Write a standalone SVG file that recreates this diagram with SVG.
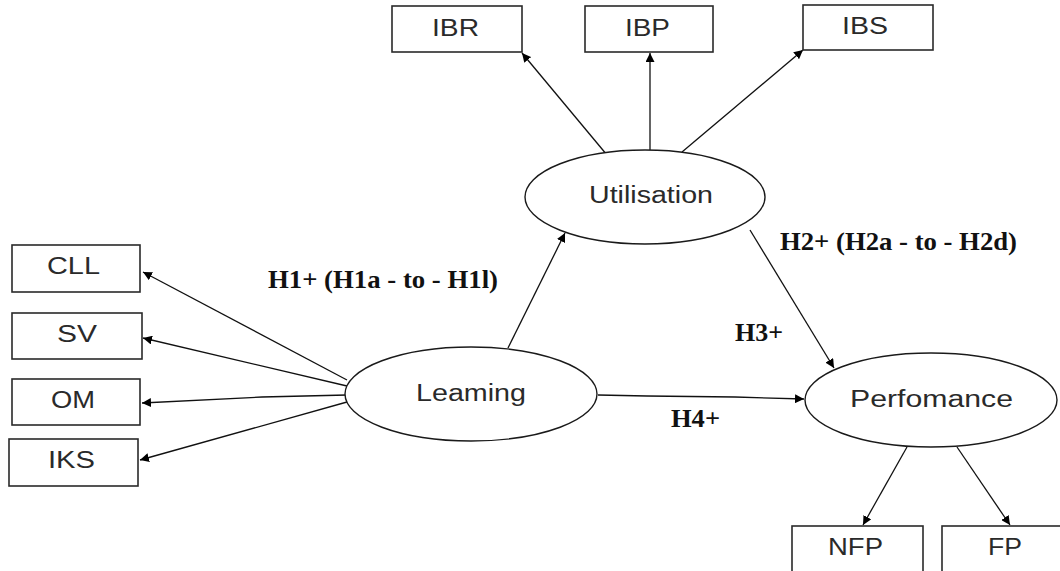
<svg xmlns="http://www.w3.org/2000/svg" width="1060" height="571" viewBox="0 0 1060 571">
<defs>
<marker id="ah" viewBox="0 0 10 10" refX="10" refY="5" markerWidth="9" markerHeight="9" markerUnits="userSpaceOnUse" orient="auto">
<path d="M0,0 L10,5 L0,10 z" fill="#000"/>
</marker>
</defs>
<style>
.box{fill:#fff;stroke:#2a2a2a;stroke-width:1.6}
.ell{fill:#fff;stroke:#1a1a1a;stroke-width:1.4}
.t{font-family:"Liberation Sans",Arial,sans-serif;font-size:23px;fill:#2a2a2a}
.lbl{font-family:"Liberation Serif","Times New Roman",serif;font-size:25px;font-weight:bold;fill:#111}
.c{fill:none;stroke:#111;stroke-width:1.3;marker-end:url(#ah)}
</style>
<rect width="1060" height="571" fill="#fff"/>
<g id="connectors">
<line class="c" x1="607" y1="155" x2="522" y2="53"/>
<line class="c" x1="650" y1="150" x2="650" y2="53"/>
<line class="c" x1="682" y1="152" x2="803" y2="50"/>
<line class="c" x1="508" y1="348" x2="565" y2="233"/>
<line class="c" x1="750" y1="230" x2="834" y2="368"/>
<polyline class="c" points="598,395 647,396 735,397 804,399"/>
<line class="c" x1="347" y1="380" x2="143" y2="272"/>
<line class="c" x1="347" y1="386" x2="143" y2="338"/>
<polyline class="c" points="347,395 262,397 142,403"/>
<line class="c" x1="347" y1="402" x2="140" y2="460"/>
<line class="c" x1="907" y1="447" x2="863" y2="525"/>
<line class="c" x1="957" y1="447" x2="1010" y2="525"/>
</g>
<g id="IBR"><rect class="box" x="392" y="6" width="130" height="46"/><text class="t" x="432" y="36" textLength="47" lengthAdjust="spacingAndGlyphs">IBR</text></g>
<g id="IBP"><rect class="box" x="585" y="6" width="128" height="46"/><text class="t" x="625" y="36" textLength="45" lengthAdjust="spacingAndGlyphs">IBP</text></g>
<g id="IBS"><rect class="box" x="803" y="5" width="130" height="45"/><text class="t" x="842" y="34" textLength="46" lengthAdjust="spacingAndGlyphs">IBS</text></g>
<g id="CLL"><rect class="box" x="12" y="245" width="128" height="47"/><text class="t" x="47" y="274" textLength="53" lengthAdjust="spacingAndGlyphs">CLL</text></g>
<g id="SV"><rect class="box" x="12" y="313" width="130" height="46"/><text class="t" x="57" y="342" textLength="40" lengthAdjust="spacingAndGlyphs">SV</text></g>
<g id="OM"><rect class="box" x="12" y="379" width="128" height="46"/><text class="t" x="51" y="408" textLength="44" lengthAdjust="spacingAndGlyphs">OM</text></g>
<g id="IKS"><rect class="box" x="9" y="439" width="129" height="47"/><text class="t" x="48" y="468" textLength="47" lengthAdjust="spacingAndGlyphs">IKS</text></g>
<g id="NFP"><rect class="box" x="792" y="526" width="131" height="60"/><text class="t" x="828" y="555" textLength="55" lengthAdjust="spacingAndGlyphs">NFP</text></g>
<g id="FP"><rect class="box" x="942" y="526" width="130" height="60"/><text class="t" x="988" y="555" textLength="34" lengthAdjust="spacingAndGlyphs">FP</text></g>
<g id="Utilisation"><ellipse class="ell" cx="645" cy="197" rx="120" ry="47"/><text class="t" x="589" y="203" textLength="124" lengthAdjust="spacingAndGlyphs">Utilisation</text></g>
<g id="Leaming"><ellipse class="ell" cx="471" cy="394" rx="126" ry="47"/><text class="t" x="416" y="401" textLength="110" lengthAdjust="spacingAndGlyphs">Leaming</text></g>
<g id="Perfomance"><ellipse class="ell" cx="931" cy="400" rx="126" ry="47"/><text class="t" x="850" y="407" textLength="163" lengthAdjust="spacingAndGlyphs">Perfomance</text></g>
<g id="labels">
<text class="lbl" x="268" y="288" textLength="230" lengthAdjust="spacingAndGlyphs">H1+ (H1a - to - H1l)</text>
<text class="lbl" x="780" y="250" textLength="237" lengthAdjust="spacingAndGlyphs">H2+ (H2a - to - H2d)</text>
<text class="lbl" x="735" y="341" textLength="48" lengthAdjust="spacingAndGlyphs">H3+</text>
<text class="lbl" x="671" y="427" textLength="49" lengthAdjust="spacingAndGlyphs">H4+</text>
</g>
</svg>
